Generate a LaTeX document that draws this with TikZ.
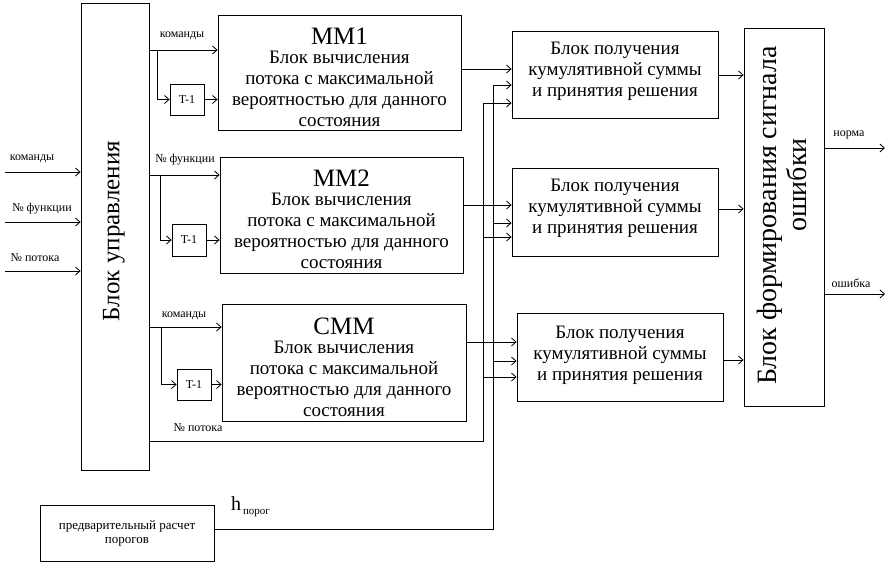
\documentclass[tikz,border=0pt]{standalone}
\usepackage{fontspec}
\setmainfont{Liberation Serif}
\usetikzlibrary{arrows.meta}
\begin{document}
\begin{tikzpicture}[x=1pt,y=-1pt,
  box/.style={draw, line width=0.8pt, inner sep=0pt, align=center},
  txt/.style={inner sep=0pt, align=center},
  body/.style={font=\fontsize{19}{21}\selectfont},
  arr/.style={-{Straight Barb[length=4.5pt,width=8pt]}, line width=0.8pt},
  ln/.style={line width=0.8pt},
  lbl/.style={font=\fontsize{12}{13}\selectfont, inner sep=0pt}]
\useasboundingbox (0,0) rectangle (889,563);
% control block
\node[box, minimum width=68pt, minimum height=467pt] (BU) at (115,236.5) {};
\node[rotate=90, font=\fontsize{25}{28}\selectfont, inner sep=0pt] (BUt) at (114,231) {Блок управления};
% MM boxes
\node[box, minimum width=243pt, minimum height=115pt] (MM1) at (339.5,72.5) {};
\node[box, minimum width=243pt, minimum height=116pt] (MM2) at (341.5,215) {};
\node[box, minimum width=244pt, minimum height=117pt] (CMM) at (344,362.5) {};
\node[txt, body] (MM1t) at (339.5,77)
  {{\fontsize{25}{26}\selectfont MM1}\\[-2pt]Блок вычисления\\ потока с максимальной\\ вероятностью для данного\\ состояния};
\node[txt, body] (MM2t) at (341.5,219.5)
  {{\fontsize{25}{26}\selectfont MM2}\\[-2pt]Блок вычисления\\ потока с максимальной\\ вероятностью для данного\\ состояния};
\node[txt, body] (CMMt) at (344,367)
  {{\fontsize{25}{26}\selectfont CMM}\\[-2pt]Блок вычисления\\ потока с максимальной\\ вероятностью для данного\\ состояния};
% T-1 boxes
\node[box, lbl, minimum width=34pt, minimum height=31pt] (T1) at (187,99.5) {T-1};
\node[box, lbl, minimum width=34pt, minimum height=32pt] (T2) at (189,240) {T-1};
\node[box, lbl, minimum width=34pt, minimum height=31pt] (T3) at (194,384.5) {T-1};
% sum boxes
\node[box, minimum width=206pt, minimum height=87pt] (S1) at (615,74.5) {};
\node[box, minimum width=206pt, minimum height=88pt] (S2) at (615,212) {};
\node[box, minimum width=206pt, minimum height=88pt] (S3) at (620,357) {};
\node[txt, body] (S1t) at (615,71) {Блок получения\\ кумулятивной суммы\\ и принятия решения};
\node[txt, body] (S2t) at (615,208.5) {Блок получения\\ кумулятивной суммы\\ и принятия решения};
\node[txt, body] (S3t) at (620,355) {Блок получения\\ кумулятивной суммы\\ и принятия решения};
% error block
\node[box, minimum width=80pt, minimum height=378pt] (ER) at (784,217) {};
\node[rotate=90, txt, font=\fontsize{28}{30}\selectfont] (ERt1) at (770,215.5) {Блок формирования сигнала};
\node[rotate=90, txt, font=\fontsize{28}{30}\selectfont] (ERt2) at (797,185) {ошибки};
% threshold box
\node[box, font=\fontsize{13}{14}\selectfont, minimum width=174pt, minimum height=56pt] (PR) at (127,533)
  {предварительный расчет\\ порогов};

% inputs
\coordinate (in1) at (5,172);
\coordinate (in2) at (5,222);
\coordinate (in3) at (5,271);
\draw[arr] (in1) -- (BU.west |- in1);
\draw[arr] (in2) -- (BU.west |- in2);
\draw[arr] (in3) -- (BU.west |- in3);
\node[lbl] (l1) at (32,159) {команды};
\node[lbl] (l2) at (42,209) {№ функции};
\node[lbl] (l3) at (35,258) {№ потока};

% MM1 inputs
\coordinate (a1) at (157,50);
\draw[arr] (BU.east |- a1) -- (MM1.west |- a1);
\draw[arr] (a1) |- (T1.west);
\draw[arr] (T1.east) -- (MM1.west |- T1.east);
\node[lbl] (la1) at (182,36) {команды};
% MM2 inputs
\coordinate (a2) at (160,175);
\draw[arr] (BU.east |- a2) -- (MM2.west |- a2);
\draw[arr] (a2) |- (T2.west);
\draw[arr] (T2.east) -- (MM2.west |- T2.east);
\node[lbl] (la2) at (185,160) {№ функции};
% CMM inputs
\coordinate (a3) at (161,327);
\draw[arr] (BU.east |- a3) -- (CMM.west |- a3);
\draw[arr] (a3) |- (T3.west);
\draw[arr] (T3.east) -- (CMM.west |- T3.east);
\node[lbl] (la3) at (184,316) {команды};

% flow number bus
\coordinate (pA) at (483,441);
\coordinate (pB) at (483,103);
\draw[ln] (BU.east |- pA) -- (pA) -- (pB);
\node[lbl] (lp) at (198,428) {№ потока};
\draw[arr] (pB) -- (S1.west |- pB);
\coordinate (p2) at (483,237);
\coordinate (p3) at (483,377);
\draw[arr] (p2) -- (S2.west |- p2);
\draw[arr] (p3) -- (S3.west |- p3);

% threshold bus
\coordinate (hA) at (493,529);
\coordinate (hB) at (493,85);
\draw[ln] (PR.east |- hA) -- (hA) -- (hB);
\draw[arr] (hB) -- (S1.west |- hB);
\coordinate (h2) at (493,223);
\coordinate (h3) at (493,361);
\draw[arr] (h2) -- (S2.west |- h2);
\draw[arr] (h3) -- (S3.west |- h3);
\node[inner sep=0pt, anchor=base west] (hl) at (231,510) {\fontsize{20}{22}\selectfont h\fontsize{11}{12}\selectfont\raisebox{-4pt}{\,порог}};

% MM outputs
\coordinate (m1) at (461,69);
\coordinate (m2) at (463,205);
\coordinate (m3) at (466,342);
\draw[arr] (MM1.east |- m1) -- (S1.west |- m1);
\draw[arr] (MM2.east |- m2) -- (S2.west |- m2);
\draw[arr] (CMM.east |- m3) -- (S3.west |- m3);

% sum outputs
\coordinate (s1) at (718,75);
\coordinate (s2) at (718,209);
\coordinate (s3) at (723,360);
\draw[arr] (S1.east |- s1) -- (ER.west |- s1);
\draw[arr] (S2.east |- s2) -- (ER.west |- s2);
\draw[arr] (S3.east |- s3) -- (ER.west |- s3);

% outputs
\coordinate (o1) at (885,148);
\coordinate (o2) at (885,294);
\draw[arr] (ER.east |- o1) -- (o1);
\draw[arr] (ER.east |- o2) -- (o2);
\node[lbl] (ln1) at (849,135) {норма};
\node[lbl] (ln2) at (851,283) {ошибка};
\end{tikzpicture}
\end{document}
